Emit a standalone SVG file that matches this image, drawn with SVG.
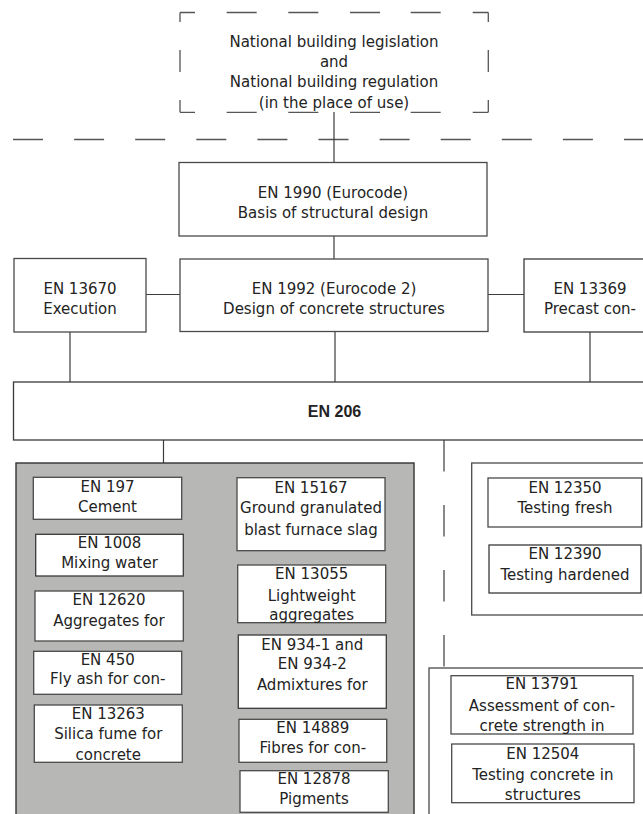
<svg xmlns="http://www.w3.org/2000/svg" width="643" height="814" viewBox="0 0 643 814">
<style>
text{font-family:"DejaVu Sans","Liberation Sans",sans-serif;font-size:15px;fill:#232323;text-anchor:middle}
.bold{font-family:"Liberation Sans","DejaVu Sans",sans-serif;font-weight:bold;font-size:16px}
.b{fill:#fff;stroke:#4a4a4a;stroke-width:1.3}
.o{fill:#fff;stroke:#3a3a3a;stroke-width:1.3}
.g{fill:#b7b7b5;stroke:#333;stroke-width:1.4}
.c{stroke:#3c3c3c;stroke-width:1.2;fill:none}
.d{stroke:#555;stroke-width:1.3;fill:none}
</style>
<rect width="643" height="814" fill="#fff"/>

<g id="national">
<path class="d" d="M180 12.5H195M226.7 12.5H256.7M288.3 12.5H318.3M350 12.5H380M410.7 12.5H440.7M472.7 12.5H488.3M180 112.3H195M226.7 112.3H256.7M288.3 112.3H318.3M350 112.3H380M410.7 112.3H440.7M472.7 112.3H488.3M180 12.5V22M180 50V72M180 100V112.3M488.3 12.5V22M488.3 50V72M488.3 100V112.3"/>
<text x="334" y="47">National building legislation</text>
<text x="334" y="67">and</text>
<text x="334" y="87">National building regulation</text>
<text x="334" y="107.5">(in the place of use)</text>
</g>

<g id="boundary">
<line class="d" x1="13" y1="139.5" x2="643" y2="139.5" stroke-dasharray="30 31.1"/>
</g>

<g id="connectors">
<path class="c" d="M334 112V162M334 236V259M146 294.5H180M488 294.5H524M70 332V382M335 332V382M590 328V386M163.5 440V463"/>
<line class="c" x1="444" y1="440" x2="444" y2="668" stroke-dasharray="31.5 33.5"/>
</g>

<g id="en1990">
<rect class="b" x="179" y="162.5" width="308" height="73.5"/>
<text x="333" y="197.5">EN 1990 (Eurocode)</text>
<text x="333" y="217.5">Basis of structural design</text>
</g>

<g id="en13670">
<rect class="b" x="14" y="258.5" width="132" height="73.5"/>
<text x="80" y="293.6">EN 13670</text>
<text x="80" y="313.6">Execution</text>
</g>

<g id="en1992">
<rect class="b" x="180" y="259" width="308" height="72.5"/>
<text x="334" y="293.6">EN 1992 (Eurocode 2)</text>
<text x="334" y="313.6">Design of concrete structures</text>
</g>

<g id="en13369">
<rect class="o" x="524" y="259" width="140" height="73"/>
<text x="590" y="293.6">EN 13369</text>
<text x="590" y="314">Precast con-</text>
</g>

<g id="en206">
<rect class="o" x="13.5" y="382" width="650" height="58"/>
<text class="bold" x="334.5" y="416.8">EN 206</text>
</g>

<g id="constituents">
<rect class="g" x="16" y="463" width="398" height="370"/>
</g>

<g id="en197">
<rect class="b" x="33.3" y="477.3" width="148.4" height="42"/>
<text x="107.5" y="492">EN 197</text>
<text x="107.5" y="512">Cement</text>
</g>
<g id="en1008">
<rect class="o" x="35.7" y="534.3" width="147.6" height="41.7"/>
<text x="109.5" y="547.5">EN 1008</text>
<text x="109.5" y="567.5">Mixing water</text>
</g>
<g id="en12620">
<rect class="b" x="35" y="591" width="148.3" height="50"/>
<text x="109" y="605">EN 12620</text>
<text x="109" y="625.5">Aggregates for</text>
</g>
<g id="en450">
<rect class="b" x="33.7" y="651.3" width="148" height="43"/>
<text x="107.7" y="665.3">EN 450</text>
<text x="107.7" y="684">Fly ash for con-</text>
</g>
<g id="en13263">
<rect class="b" x="34.3" y="705" width="148" height="57.3"/>
<text x="108.3" y="718.7">EN 13263</text>
<text x="108.3" y="738.7">Silica fume for</text>
<text x="108.3" y="759.5">concrete</text>
</g>

<g id="en15167">
<rect class="b" x="237" y="477.7" width="148" height="73"/>
<text x="311" y="492.6">EN 15167</text>
<text x="311" y="512.6">Ground granulated</text>
<text x="311" y="534.5">blast furnace slag</text>
</g>
<g id="en13055">
<rect class="b" x="237.7" y="565" width="148" height="57.7"/>
<text x="311.7" y="579.3">EN 13055</text>
<text x="311.7" y="601">Lightweight</text>
<text x="311.7" y="620">aggregates</text>
</g>
<g id="en934">
<rect class="o" x="238.3" y="635" width="148" height="73.3"/>
<text x="312.3" y="649.6">EN 934-1 and</text>
<text x="312.3" y="669.3">EN 934-2</text>
<text x="312.3" y="690.3">Admixtures for</text>
</g>
<g id="en14889">
<rect class="b" x="239" y="719.3" width="147.7" height="43"/>
<text x="312.8" y="733">EN 14889</text>
<text x="312.8" y="753">Fibres for con-</text>
</g>
<g id="en12878">
<rect class="b" x="240" y="770.7" width="148.3" height="41.6"/>
<text x="314" y="783.6">EN 12878</text>
<text x="314" y="803.6">Pigments</text>
</g>

<g id="testing">
<rect class="b" x="471.7" y="463" width="190" height="152"/>
</g>
<g id="en12350">
<rect class="b" x="488" y="478" width="153.7" height="49"/>
<text x="565" y="492.6">EN 12350</text>
<text x="565" y="512.6">Testing fresh</text>
</g>
<g id="en12390">
<rect class="o" x="489" y="545" width="152" height="48"/>
<text x="565" y="559.3">EN 12390</text>
<text x="565" y="579.6">Testing hardened</text>
</g>

<g id="insitu">
<rect class="b" x="429" y="668" width="230" height="170"/>
</g>
<g id="en13791">
<rect class="b" x="451" y="675.7" width="182" height="58.3"/>
<text x="542" y="688.6">EN 13791</text>
<text x="542" y="711">Assessment of con-</text>
<text x="542" y="731.3">crete strength in</text>
</g>
<g id="en12504">
<rect class="b" x="451.7" y="744" width="182.3" height="58.7"/>
<text x="542.8" y="758.6">EN 12504</text>
<text x="542.8" y="779.6">Testing concrete in</text>
<text x="542.8" y="800">structures</text>
</g>
</svg>
